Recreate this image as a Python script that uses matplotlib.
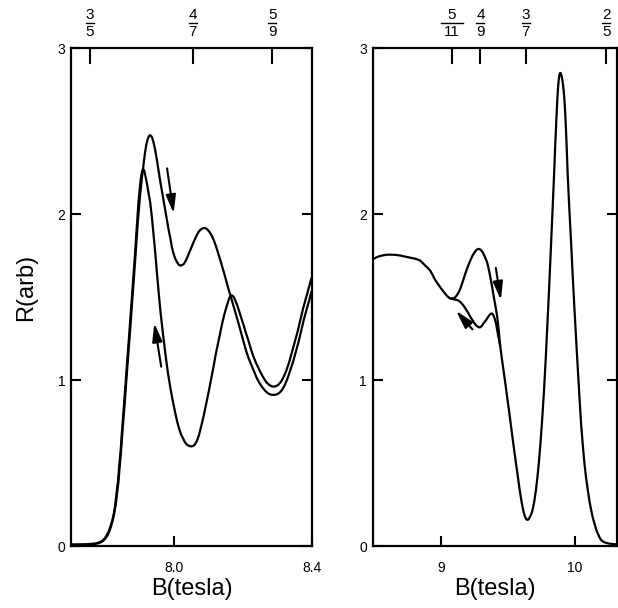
import matplotlib
matplotlib.use("Agg")
import matplotlib.pyplot as plt

plt.rcParams['font.family'] = ['Liberation Sans', 'DejaVu Sans']

# ---- left panel: sweep up (lower first peak, inner loop at the end) ----
b_up_L = [7.700, 7.720, 7.740, 7.755, 7.770, 7.780, 7.790, 7.798, 7.805, 7.810,
          7.815, 7.820, 7.825, 7.829, 7.833, 7.837, 7.840, 7.844, 7.847, 7.855,
          7.862, 7.870, 7.878, 7.886, 7.889, 7.893, 7.896, 7.899, 7.902, 7.904,
          7.907, 7.909, 7.912, 7.914, 7.920, 7.925, 7.930, 7.935, 7.940, 7.945,
          7.949, 7.955, 7.960, 7.967, 7.974, 7.981, 7.988, 7.995, 8.003, 8.009,
          8.015, 8.020, 8.025, 8.031, 8.037, 8.044, 8.050, 8.055, 8.060, 8.066,
          8.072, 8.078, 8.085, 8.092, 8.100, 8.107, 8.114, 8.120, 8.127, 8.133,
          8.139, 8.146, 8.153, 8.159, 8.163, 8.167, 8.171, 8.175, 8.183, 8.192,
          8.200, 8.207, 8.215, 8.222, 8.230, 8.238, 8.245, 8.252, 8.260, 8.268,
          8.276, 8.283, 8.289, 8.296, 8.303, 8.310, 8.318, 8.326, 8.334, 8.342,
          8.350, 8.358, 8.366, 8.374, 8.382, 8.390, 8.398]
r_up_L = [0.010, 0.010, 0.010, 0.012, 0.015, 0.020, 0.030, 0.045, 0.070, 0.090,
          0.120, 0.155, 0.200, 0.260, 0.330, 0.400, 0.480, 0.570, 0.660, 0.880,
          1.080, 1.300, 1.530, 1.760, 1.860, 1.980, 2.070, 2.140, 2.200, 2.230,
          2.260, 2.270, 2.265, 2.250, 2.190, 2.130, 2.070, 1.980, 1.870, 1.760,
          1.660, 1.520, 1.410, 1.280, 1.160, 1.050, 0.960, 0.880, 0.800, 0.745,
          0.700, 0.670, 0.650, 0.625, 0.610, 0.602, 0.600, 0.603, 0.612, 0.635,
          0.670, 0.720, 0.780, 0.850, 0.930, 1.005, 1.080, 1.150, 1.220, 1.280,
          1.340, 1.400, 1.450, 1.490, 1.505, 1.510, 1.505, 1.490, 1.450, 1.390,
          1.340, 1.290, 1.240, 1.190, 1.140, 1.100, 1.070, 1.040, 1.010, 0.985,
          0.970, 0.962, 0.960, 0.963, 0.973, 0.990, 1.020, 1.060, 1.110, 1.170,
          1.230, 1.290, 1.360, 1.430, 1.490, 1.550, 1.610]

# ---- left panel: sweep down (higher first peak, outer loop at the end) ----
b_dn_L = [7.700, 7.720, 7.740, 7.755, 7.770, 7.780, 7.790, 7.798, 7.805, 7.810,
          7.815, 7.820, 7.825, 7.830, 7.834, 7.838, 7.841, 7.845, 7.848, 7.856,
          7.863, 7.871, 7.879, 7.887, 7.894, 7.898, 7.901, 7.905, 7.908, 7.912,
          7.915, 7.919, 7.922, 7.926, 7.929, 7.933, 7.936, 7.940, 7.945, 7.950,
          7.954, 7.959, 7.964, 7.969, 7.974, 7.979, 7.984, 7.989, 7.993, 7.998,
          8.003, 8.008, 8.012, 8.016, 8.020, 8.024, 8.028, 8.033, 8.038, 8.042,
          8.046, 8.052, 8.058, 8.064, 8.070, 8.075, 8.080, 8.084, 8.088, 8.093,
          8.097, 8.103, 8.110, 8.116, 8.122, 8.128, 8.134, 8.141, 8.148, 8.155,
          8.163, 8.170, 8.177, 8.184, 8.192, 8.200, 8.208, 8.216, 8.224, 8.232,
          8.240, 8.248, 8.256, 8.264, 8.272, 8.280, 8.289, 8.297, 8.305, 8.313,
          8.321, 8.329, 8.337, 8.345, 8.353, 8.361, 8.369, 8.377, 8.385, 8.392,
          8.398]
r_dn_L = [0.005, 0.006, 0.008, 0.010, 0.012, 0.017, 0.025, 0.040, 0.060, 0.082,
          0.110, 0.145, 0.190, 0.250, 0.320, 0.390, 0.470, 0.560, 0.650, 0.860,
          1.060, 1.280, 1.510, 1.740, 1.950, 2.050, 2.120, 2.200, 2.250, 2.320,
          2.370, 2.420, 2.445, 2.468, 2.475, 2.470, 2.458, 2.430, 2.380, 2.320,
          2.265, 2.200, 2.140, 2.080, 2.020, 1.960, 1.900, 1.850, 1.800, 1.760,
          1.730, 1.710, 1.697, 1.690, 1.690, 1.694, 1.700, 1.718, 1.740, 1.760,
          1.780, 1.810, 1.840, 1.867, 1.890, 1.903, 1.911, 1.915, 1.916, 1.912,
          1.905, 1.890, 1.865, 1.835, 1.800, 1.760, 1.720, 1.670, 1.620, 1.565,
          1.510, 1.460, 1.410, 1.360, 1.300, 1.240, 1.180, 1.130, 1.090, 1.050,
          1.010, 0.980, 0.955, 0.935, 0.920, 0.912, 0.910, 0.913, 0.922, 0.940,
          0.970, 1.010, 1.060, 1.110, 1.170, 1.230, 1.300, 1.370, 1.430, 1.480,
          1.530]

# ---- right panel: common start ----
b_start_R = [8.487, 8.500, 8.520, 8.540, 8.560, 8.580, 8.600, 8.630, 8.667, 8.700,
             8.720, 8.750, 8.780, 8.810, 8.842, 8.862, 8.880, 8.900, 8.917, 8.935,
             8.950, 8.970, 8.992, 9.010, 9.030, 9.045, 9.060, 9.070, 9.080]
r_start_R = [1.725, 1.732, 1.740, 1.746, 1.750, 1.753, 1.755, 1.755, 1.753, 1.749,
             1.745, 1.740, 1.735, 1.730, 1.720, 1.705, 1.690, 1.675, 1.660, 1.635,
             1.610, 1.585, 1.560, 1.540, 1.520, 1.505, 1.495, 1.490, 1.490]

# ---- right panel: the two branches ----
b_dn_R = [9.080, 9.090, 9.100, 9.112, 9.125, 9.135, 9.143, 9.160, 9.180, 9.200,
          9.218, 9.235, 9.250, 9.265, 9.280, 9.295, 9.310, 9.325, 9.343, 9.355,
          9.365, 9.373, 9.381, 9.390, 9.400, 9.410, 9.419, 9.430, 9.440]
r_dn_R = [1.490, 1.490, 1.495, 1.505, 1.520, 1.535, 1.550, 1.590, 1.640, 1.685,
          1.720, 1.750, 1.770, 1.785, 1.790, 1.785, 1.770, 1.745, 1.710, 1.670,
          1.630, 1.595, 1.560, 1.515, 1.470, 1.425, 1.380, 1.300, 1.210]
b_up_R = [9.080, 9.090, 9.100, 9.115, 9.130, 9.143, 9.155, 9.170, 9.190, 9.205,
          9.218, 9.235, 9.250, 9.263, 9.275, 9.285, 9.293, 9.304, 9.315, 9.330,
          9.343, 9.355, 9.365, 9.373, 9.381, 9.390, 9.400, 9.410, 9.419, 9.430,
          9.440]
r_up_R = [1.490, 1.487, 1.485, 1.483, 1.478, 1.470, 1.460, 1.445, 1.420, 1.400,
          1.380, 1.360, 1.340, 1.328, 1.320, 1.317, 1.318, 1.326, 1.340, 1.355,
          1.370, 1.385, 1.395, 1.400, 1.400, 1.390, 1.370, 1.340, 1.300, 1.250,
          1.210]

# ---- right panel: common end ----
b_end_R = [9.440, 9.455, 9.469, 9.482, 9.494, 9.507, 9.519, 9.532, 9.545, 9.557,
           9.569, 9.580, 9.590, 9.600, 9.607, 9.616, 9.625, 9.634, 9.644, 9.652,
           9.660, 9.668, 9.677, 9.685, 9.694, 9.707, 9.720, 9.732, 9.744, 9.757,
           9.770, 9.782, 9.794, 9.807, 9.820, 9.832, 9.844, 9.851, 9.858, 9.864,
           9.870, 9.875, 9.880, 9.885, 9.889, 9.894, 9.900, 9.905, 9.910, 9.915,
           9.920, 9.926, 9.932, 9.938, 9.945, 9.957, 9.970, 9.982, 9.995, 10.008,
           10.020, 10.033, 10.045, 10.058, 10.070, 10.083, 10.095, 10.108, 10.120,
           10.133, 10.145, 10.158, 10.170, 10.183, 10.195, 10.208, 10.220, 10.246,
           10.280, 10.310]
r_end_R = [1.210, 1.120, 1.040, 0.965, 0.890, 0.815, 0.740, 0.660, 0.580, 0.510,
           0.440, 0.375, 0.320, 0.270, 0.240, 0.205, 0.180, 0.163, 0.157, 0.160,
           0.170, 0.183, 0.200, 0.225, 0.260, 0.330, 0.420, 0.520, 0.640, 0.790,
           0.960, 1.140, 1.340, 1.560, 1.800, 2.020, 2.245, 2.390, 2.520, 2.630,
           2.720, 2.780, 2.820, 2.843, 2.850, 2.847, 2.830, 2.810, 2.780, 2.745,
           2.700, 2.620, 2.520, 2.400, 2.245, 2.040, 1.840, 1.640, 1.440, 1.250,
           1.080, 0.900, 0.740, 0.610, 0.500, 0.410, 0.340, 0.270, 0.220,
           0.170, 0.137, 0.100, 0.075, 0.052, 0.036, 0.028, 0.022, 0.016,
           0.012, 0.010]

# filling factor marks on the top axis
nu_pos_L = [7.754, 8.053, 8.285]
nu_num_L = ['3', '4', '5']
nu_den_L = ['5', '7', '9']
nu_pos_R = [9.080, 9.293, 9.632, 10.233]
nu_num_R = ['5', '4', '3', '2']
nu_den_R = ['11', '9', '7', '5']

# sweep direction arrows (tail, head)
arrows_L = [((7.979, 2.275), (7.998, 2.004)), ((7.962, 1.08), (7.942, 1.342))]
arrows_R = [((9.408, 1.676), (9.446, 1.482)), ((9.234, 1.305), (9.112, 1.417))]

fig = plt.figure(figsize=(6.18, 6.08), dpi=100)
axL = fig.add_axes([71/618, 62/608, 241/618, 498/608])
axR = fig.add_axes([372.5/618, 62/608, 244/618, 498/608])

lw = 1.6
axL.plot(b_up_L, r_up_L, color='k', lw=lw)
axL.plot(b_dn_L, r_dn_L, color='k', lw=lw)
axR.plot(b_start_R, r_start_R, color='k', lw=lw)
axR.plot(b_dn_R, r_dn_R, color='k', lw=lw)
axR.plot(b_up_R, r_up_R, color='k', lw=lw)
axR.plot(b_end_R, r_end_R, color='k', lw=lw)

axL.set_xlim(7.7, 8.4)
axR.set_xlim(8.487, 10.31)


def fraction_marks(ax, pos, num, den, wpx):
    xmin, xmax = ax.get_xlim()
    axw = ax.get_position().width * 618
    tr = ax.get_xaxis_transform()
    for p, n, d in zip(pos, num, den):
        ax.axvline(p, ymin=1 - 15/498, ymax=1, color='k', lw=1.5)
        ax.text(p, 1 + 33/498, n, transform=tr, ha='center', va='center',
                fontsize=11, clip_on=False)
        ax.text(p, 1 + 16/498, d, transform=tr, ha='center', va='center',
                fontsize=11, clip_on=False)
        half = (wpx[len(d) - 1] / 2) * (xmax - xmin) / axw
        ax.plot([p - half, p + half], [1 + 25/498] * 2, color='k', lw=1.0,
                transform=tr, clip_on=False)


for ax in (axL, axR):
    ax.set_ylim(0, 3)
    ax.set_yticks([0, 1, 2, 3])
    ax.set_yticklabels(['0', '1', '2', '3'])
    ax.tick_params(axis='both', direction='in', length=7, width=1.5,
                   labelsize=10, right=True, top=False)
    ax.tick_params(axis='y', pad=4)
    ax.tick_params(axis='x', pad=11)
    for s in ax.spines.values():
        s.set_linewidth(1.6)
    ax.set_xlabel('B(tesla)', fontsize=17)
    ax.xaxis.set_label_coords(0.5, -0.064)

axL.set_xticks([8.0, 8.4])
axL.set_xticklabels(['8.0', '8.4'])
axR.set_xticks([9, 10])
axR.set_xticklabels(['9', '10'])

axL.set_ylabel('R(arb)', fontsize=17)
axL.yaxis.set_label_coords(-0.14, 0.52)

fraction_marks(axL, nu_pos_L, nu_num_L, nu_den_L, [8, 22])
fraction_marks(axR, nu_pos_R, nu_num_R, nu_den_R, [8, 22])

for ax, arrs in ((axL, arrows_L), (axR, arrows_R)):
    for tail, head in arrs:
        ax.annotate('', xy=head, xytext=tail,
                    arrowprops=dict(arrowstyle='-|>,head_length=1.1,head_width=0.3',
                                    color='k', lw=1.5, shrinkA=0, shrinkB=0))

fig.savefig('out.png', dpi=100)
